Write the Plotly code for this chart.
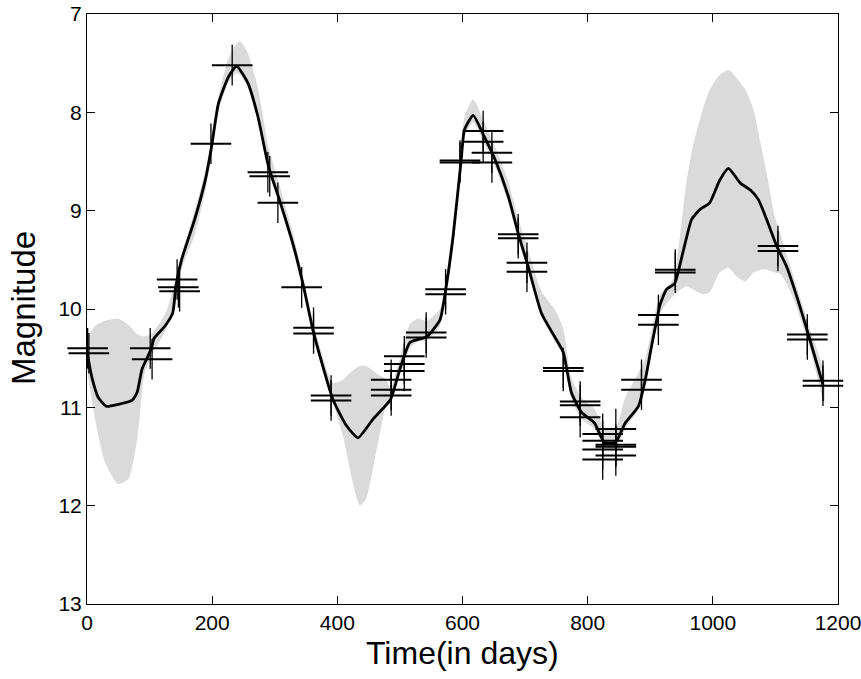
import plotly.graph_objects as go

# ---- data ----
line_day = [0, 8, 18, 31, 50, 72, 80, 88, 103, 107, 125, 137, 142, 151, 172, 189, 199, 210, 226, 239,
            257, 273, 290, 308, 330, 346, 362, 393, 415, 433, 457, 485, 500, 516, 543, 564, 574, 585,
            598, 603, 617, 635, 652, 673, 689, 705, 726, 747, 761, 774, 790, 811, 827, 844, 860, 881,
            892, 902, 916, 926, 939, 952, 966, 979, 995, 1011, 1025, 1044, 1060, 1073, 1086, 1102,
            1118, 1139, 1155, 1176]
line_mag = [10.44, 10.70, 10.90, 10.99, 10.97, 10.93, 10.85, 10.61, 10.40, 10.30, 10.17, 10.04, 9.77,
            9.50, 9.09, 8.69, 8.35, 7.91, 7.64, 7.53, 7.70, 8.04, 8.55, 8.90, 9.36, 9.77, 10.24,
            10.92, 11.19, 11.31, 11.12, 10.92, 10.61, 10.34, 10.28, 10.11, 9.77, 9.26, 8.48, 8.18,
            8.03, 8.25, 8.48, 8.85, 9.23, 9.57, 10.04, 10.28, 10.44, 10.85, 11.05, 11.16, 11.36,
            11.36, 11.16, 10.99, 10.72, 10.38, 9.95, 9.80, 9.74, 9.43, 9.09, 8.99, 8.92, 8.69, 8.57,
            8.72, 8.79, 8.89, 9.09, 9.36, 9.57, 9.97, 10.31, 10.77]

band_day = [0, 13, 29, 50, 66, 81, 92, 103, 125, 141, 151, 172, 189, 199, 210, 226, 239, 245, 257,
            273, 290, 308, 330, 346, 362, 393, 409, 420, 436, 446, 462, 478, 485, 500, 516, 528, 543,
            564, 574, 585, 598, 603, 617, 635, 652, 673, 689, 705, 726, 747, 761, 774, 790, 811, 827,
            844, 860, 881, 892, 902, 916, 936, 957, 968, 984, 995, 1011, 1025, 1038, 1052, 1065,
            1076, 1086, 1099, 1109, 1128, 1155, 1178]
band_bright = [10.30, 10.17, 10.12, 10.10, 10.16, 10.26, 10.28, 10.25, 10.05, 9.72, 9.45, 9.00, 8.60,
               8.30, 7.85, 7.45, 7.30, 7.28, 7.40, 7.75, 8.35, 8.75, 9.25, 9.70, 10.15, 10.75, 10.72,
               10.65, 10.58, 10.58, 10.65, 10.72, 10.80, 10.50, 10.15, 10.10, 10.12, 10.00, 9.68,
               9.15, 8.35, 8.05, 7.87, 8.10, 8.35, 8.70, 9.08, 9.40, 9.82, 10.00, 10.20, 10.70,
               10.90, 11.02, 11.20, 11.22, 10.90, 10.65, 10.50, 10.22, 9.85, 9.70, 8.75, 8.35, 7.97,
               7.77, 7.62, 7.57, 7.65, 7.77, 7.97, 8.31, 8.62, 9.06, 9.26, 9.65, 10.20, 10.65]
band_faint = [10.62, 11.12, 11.56, 11.78, 11.73, 11.29, 10.65, 10.48, 10.22, 9.95, 9.60, 9.25, 8.80,
              8.45, 8.00, 7.70, 7.60, 7.62, 7.75, 8.08, 8.60, 8.95, 9.42, 9.82, 10.30, 10.95, 11.29,
              11.63, 12.00, 11.93, 11.46, 10.99, 10.95, 10.68, 10.40, 10.33, 10.32, 10.17, 9.83,
              9.32, 8.55, 8.25, 8.10, 8.32, 8.55, 8.92, 9.30, 9.62, 10.08, 10.32, 10.48, 10.92,
              11.12, 11.22, 11.42, 11.42, 11.22, 11.02, 10.80, 10.45, 10.04, 9.87, 9.77, 9.80, 9.85,
              9.83, 9.63, 9.58, 9.67, 9.72, 9.63, 9.60, 9.60, 9.63, 9.65, 9.88, 10.40, 10.95]

obs_day = [1, 3, 101, 104, 144, 146, 148, 198, 232, 289, 292, 305, 343, 362, 362, 390, 390,
           486, 486, 486, 507, 507, 507, 542, 542, 573, 573, 596, 596, 633, 633, 647, 647,
           689, 689, 703, 703, 761, 761, 788, 788, 788, 824, 824, 824, 824, 845, 845, 845, 845,
           886, 886, 913, 913, 940, 940, 1104, 1104, 1151, 1151, 1176, 1176]
obs_mag = [10.40, 10.45, 10.40, 10.51, 9.70, 9.78, 9.82, 8.32, 7.52, 8.61, 8.65, 8.92, 9.78,
           10.19, 10.25, 10.88, 10.93, 10.72, 10.82, 10.88, 10.48, 10.56, 10.63, 10.24, 10.29,
           9.80, 9.85, 8.49, 8.51, 8.19, 8.30, 8.41, 8.51, 9.24, 9.28, 9.53, 9.62, 10.60, 10.63,
           10.94, 10.98, 11.10, 11.27, 11.34, 11.43, 11.53, 11.22, 11.38, 11.40, 11.49,
           10.72, 10.82, 10.06, 10.16, 9.60, 9.63, 9.36, 9.41, 10.26, 10.31, 10.73, 10.78]

x_ticks = [0, 200, 400, 600, 800, 1000, 1200]
y_ticks = [7, 8, 9, 10, 11, 12, 13]
x_title = "Time(in days)"
y_title = "Magnitude"

fig = go.Figure()

# grey envelope
fig.add_trace(go.Scatter(
    x=band_day + band_day[::-1], y=band_bright + band_faint[::-1],
    mode="lines", fill="toself", fillcolor="#dadada",
    line=dict(width=0, color="#dadada", shape="spline", smoothing=0.6),
    hoverinfo="skip", showlegend=False))

# model curve
fig.add_trace(go.Scatter(
    x=line_day, y=line_mag, mode="lines",
    line=dict(color="black", width=2.8, shape="spline", smoothing=0.5),
    showlegend=False))

# observations: horizontal and vertical strokes of the plus markers
fig.add_trace(go.Scatter(
    x=obs_day, y=obs_mag, mode="markers", cliponaxis=False,
    marker=dict(symbol="line-ew", size=29, line=dict(color="black", width=2)),
    showlegend=False))
fig.add_trace(go.Scatter(
    x=obs_day, y=obs_mag, mode="markers", cliponaxis=False,
    marker=dict(symbol="line-ns", size=29, line=dict(color="black", width=1.3)),
    showlegend=False))

tick_font = dict(family="Liberation Sans, Arial", size=21, color="black")
axis_common = dict(showline=True, linecolor="black", linewidth=1, mirror="ticks",
                   ticks="inside", ticklen=8, tickcolor="black", tickwidth=1,
                   showgrid=False, zeroline=False, tickfont=tick_font,
                   automargin=False, ticklabeloverflow="allow")

fig.update_layout(
    width=861, height=679,
    margin=dict(l=87, r=23, t=14, b=75),
    paper_bgcolor="white", plot_bgcolor="white",
    xaxis=dict(range=[0, 1200], tickvals=x_ticks, ticktext=[str(v) for v in x_ticks], **axis_common),
    yaxis=dict(range=[13, 7], tickvals=y_ticks, ticktext=[str(v) for v in y_ticks], **axis_common),
    annotations=[
        dict(text=x_title, xref="paper", yref="paper", x=0.5, y=-0.083, showarrow=False,
             xanchor="center", yanchor="middle",
             font=dict(family="Liberation Sans, Arial", size=32, color="black")),
        dict(text=y_title, xref="paper", yref="paper", x=-0.0839, y=0.5017, showarrow=False,
             xanchor="center", yanchor="middle", textangle=-90,
             font=dict(family="Liberation Sans, Arial", size=33, color="black")),
    ],
)

# remove the default 8px page margin so the 861x679 figure fills the window exactly
fig.write_html("out.html", config={"displayModeBar": False},
               post_script="document.body.style.margin='0px';")
